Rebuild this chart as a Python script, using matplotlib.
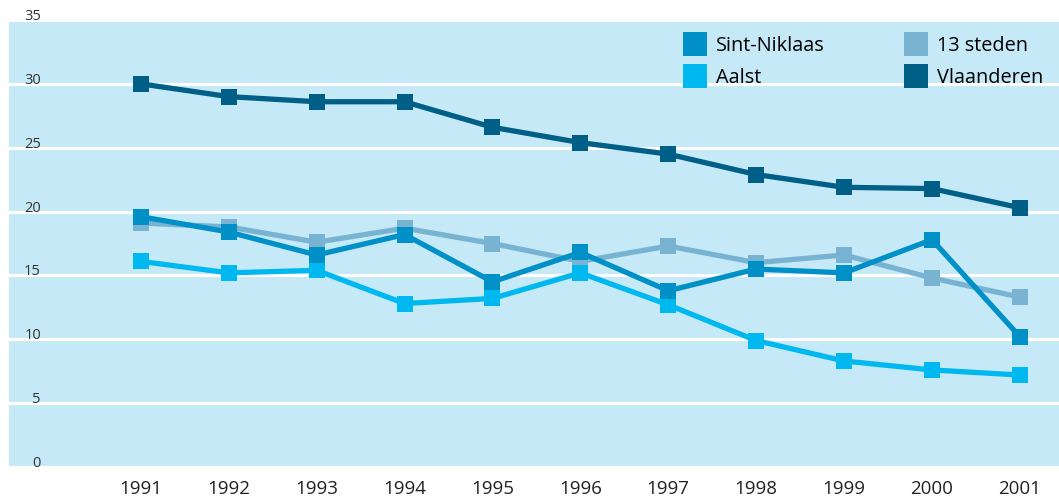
import matplotlib.pyplot as plt
from matplotlib.lines import Line2D

years = [1991, 1992, 1993, 1994, 1995, 1996, 1997, 1998, 1999, 2000, 2001]
sint_niklaas = [19.6, 18.4, 16.6, 18.2, 14.5, 16.8, 13.8, 15.5, 15.2, 17.8, 10.2]
aalst = [16.1, 15.2, 15.4, 12.8, 13.2, 15.2, 12.7, 9.9, 8.3, 7.6, 7.2]
dertien_steden = [19.1, 18.8, 17.6, 18.7, 17.5, 16.1, 17.3, 16.0, 16.6, 14.8, 13.3]
vlaanderen = [30.0, 29.0, 28.6, 28.6, 26.6, 25.4, 24.5, 22.9, 21.9, 21.8, 20.3]

labels = ["Sint-Niklaas", "Aalst", "13 steden", "Vlaanderen"]
colors = {"Sint-Niklaas": "#0090c8", "Aalst": "#00b8f0",
          "13 steden": "#78b4d2", "Vlaanderen": "#005f86"}

plt.rcParams['font.family'] = ['Open Sans', 'DejaVu Sans']

fig = plt.figure(figsize=(10.59, 4.97), dpi=100)
ax = fig.add_axes([9 / 1059, 30 / 497, 1 - 9 / 1059, 447 / 497])
ax.set_facecolor("#c6e9f8")

series = [("13 steden", dertien_steden, 2), ("Vlaanderen", vlaanderen, 3),
          ("Aalst", aalst, 4), ("Sint-Niklaas", sint_niklaas, 5)]
for name, vals, z in series:
    ax.plot(years, vals, color=colors[name], lw=3.8, marker='s', ms=11.5,
            markeredgewidth=0, zorder=z)

ax.set_ylim(0, 35)
ax.set_xlim(1989.5, 2001.445)
ax.set_yticks(range(0, 36, 5))
ax.set_xticks(years)
ax.grid(axis='y', color='white', lw=2.2, zorder=1)
ax.set_axisbelow(True)
for s in ax.spines.values():
    s.set_visible(False)

ax.tick_params(axis='y', length=0, pad=-23, labelsize=10.5, labelcolor='#333333')
ax.tick_params(axis='x', length=0, pad=9, labelsize=13.5, labelcolor='#222222')
for lab in ax.get_yticklabels():
    lab.set_verticalalignment('baseline')

handles = [Line2D([], [], color=colors[n], marker='s', ms=17, ls='none',
                  markeredgewidth=0) for n in labels]
ax.legend(handles, labels, ncol=2, frameon=False, loc='upper right',
          bbox_to_anchor=(1.0, 1.0), fontsize=14.3, handletextpad=0.45,
          columnspacing=4.0, labelspacing=0.6, handlelength=1.2,
          borderaxespad=0.4)

fig.savefig("out.png", dpi=100)
